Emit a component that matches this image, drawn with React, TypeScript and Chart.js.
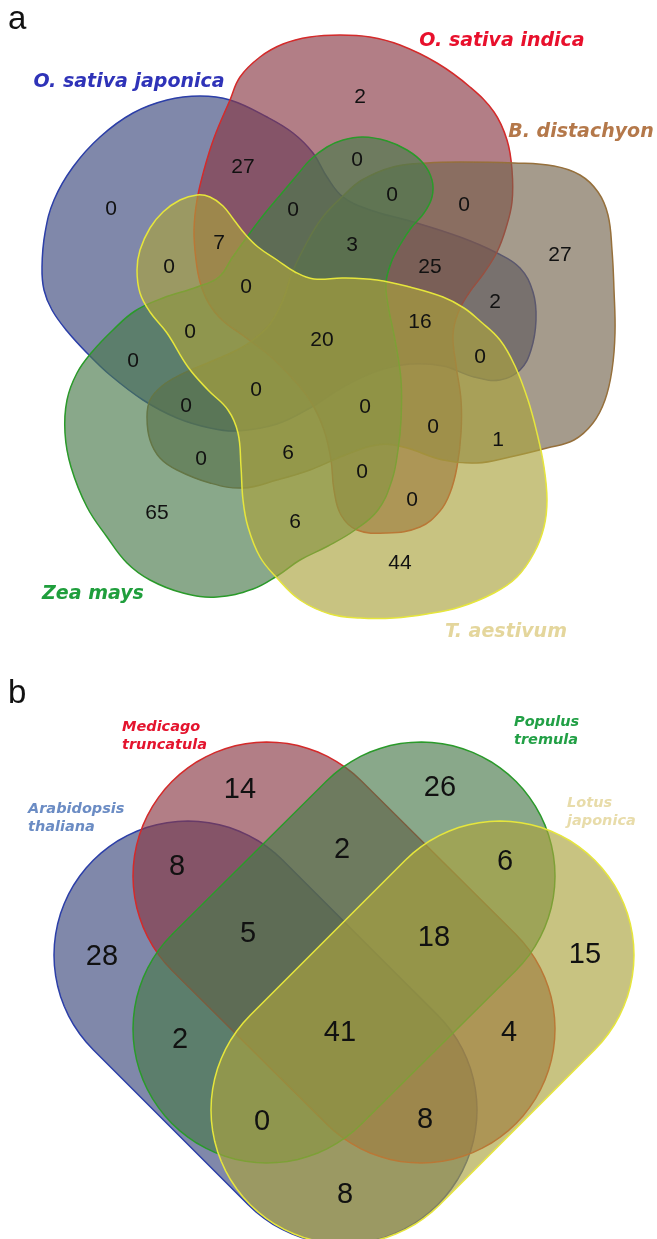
import React, { useEffect, useRef } from 'react';
import { Chart, registerables } from 'chart.js';

Chart.register(...registerables);

const W = 657;
const H = 1239;

// ---------------- panel a : five sets ----------------
const setNamesA = ['O. sativa japonica', 'O. sativa indica', 'B. distachyon', 'Zea mays', 'T. aestivum'];
const regionCountsA = [0, 27, 0, 7, 0, 0, 2, 0, 0, 0, 27, 3, 25, 2, 0, 0, 0, 0, 0, 6, 65, 6, 20, 16, 0, 0, 0, 1, 0, 0, 44];
const regionAnchorsA = [
  [111, 209], [243, 167], [293, 210], [219, 243], [169, 267], [246, 287], [360, 97], [357, 160],
  [392, 195], [464, 205], [560, 255], [352, 245], [430, 267], [495, 302], [190, 332], [133, 361],
  [186, 406], [256, 390], [201, 459], [288, 453], [157, 513], [295, 522], [322, 340], [420, 322],
  [480, 357], [365, 407], [433, 427], [498, 440], [362, 472], [412, 500], [400, 563],
];
const nameAnchorsA = [[129, 87], [502, 46], [581, 137], [93, 599], [506, 637]];

const outlineJaponica = [
  [230, 100], [267, 117], [293, 133], [313, 153], [327, 177], [343, 197], [370, 210], [410, 221],
  [460, 237], [497, 253], [520, 268], [533, 292], [536, 320], [531, 350], [520, 370], [500, 380],
  [474, 377], [443, 366], [410, 364], [377, 371], [343, 387], [310, 408], [277, 424], [237, 431],
  [210, 428], [177, 418], [143, 400], [110, 375], [87, 353], [67, 331], [52, 310], [44, 290],
  [42, 267], [45, 233], [54, 200], [73, 167], [100, 137], [133, 113], [167, 100], [200, 96],
];
const outlineIndica = [
  [230, 100], [240, 77], [260, 57], [283, 44], [310, 37], [340, 35], [370, 37], [400, 45],
  [437, 63], [470, 87], [494, 112], [507, 140], [512, 170], [512, 202], [506, 228], [497, 252],
  [484, 273], [469, 293], [458, 313], [453, 335], [456, 365], [461, 400], [461, 433], [457, 467],
  [450, 493], [440, 511], [420, 527], [387, 533], [357, 530], [341, 515], [334, 490], [331, 460],
  [324, 430], [311, 402], [292, 378], [270, 356], [245, 337], [222, 320], [208, 302], [200, 282],
  [196, 260], [194, 230], [197, 200], [204, 170], [214, 138],
];
const outlineDistachyon = [
  [344, 195], [362, 180], [393, 167], [427, 163], [460, 162], [514, 163], [554, 166], [580, 175],
  [598, 192], [608, 215], [612, 250], [614, 290], [615, 333], [612, 370], [605, 400], [593, 423],
  [574, 440], [547, 448], [510, 457], [477, 463], [443, 460], [403, 447], [377, 445], [343, 456],
  [310, 470], [277, 480], [243, 488], [210, 483], [177, 470], [160, 458], [150, 440], [147, 417],
  [150, 400], [162, 386], [180, 375], [210, 362], [235, 351], [253, 340], [270, 324], [283, 300],
  [292, 273], [305, 246], [322, 218],
];
const outlineZea = [
  [310, 160], [327, 147], [343, 140], [363, 137], [387, 141], [407, 150], [423, 163], [432, 180],
  [432, 197], [424, 213], [411, 228], [400, 245], [391, 263], [386, 283], [388, 305], [395, 340],
  [401, 380], [401, 420], [398, 450], [392, 480], [378, 510], [355, 530], [328, 546], [300, 560],
  [277, 576], [253, 589], [217, 597], [183, 593], [150, 580], [127, 563], [107, 537], [87, 507],
  [71, 467], [65, 433], [67, 400], [77, 373], [92, 352], [113, 330], [135, 311], [163, 298],
  [197, 287], [219, 277], [232, 258], [247, 237], [262, 217], [282, 193], [298, 174],
];
const outlineAestivum = [
  [197, 195], [210, 197], [223, 206], [234, 220], [245, 234], [258, 247], [277, 260], [295, 272],
  [314, 279], [343, 278], [377, 280], [410, 287], [443, 297], [464, 308], [480, 321], [500, 340],
  [515, 366], [528, 400], [537, 433], [544, 467], [547, 500], [544, 527], [534, 553], [517, 577],
  [494, 593], [460, 607], [427, 614], [394, 618], [360, 618], [330, 614], [300, 600], [277, 578],
  [260, 557], [248, 527], [243, 500], [241, 467], [238, 433], [228, 410], [208, 390], [188, 367],
  [167, 333], [150, 312], [140, 293], [137, 270], [140, 250], [150, 228], [163, 212], [180, 200],
];
const outlinesA = [outlineJaponica, outlineIndica, outlineDistachyon, outlineZea, outlineAestivum];

// ---------------- panel b : four sets ----------------
const setNamesB = [['Arabidopsis', 'thaliana'], ['Medicago', 'truncatula'], ['Populus', 'tremula'], ['Lotus', 'japonica']];
const regionCountsB = [28, 14, 26, 15, 8, 2, 6, 5, 18, 41, 2, 4, 0, 8, 8];
const regionAnchorsB = [
  [102, 957], [240, 790], [440, 788], [585, 955], [177, 867], [342, 850], [505, 862], [248, 934],
  [434, 938], [340, 1033], [180, 1040], [509, 1033], [262, 1122], [425, 1120], [345, 1195],
];
const nameAnchorsB = [[28, 813], [122, 731], [514, 726], [567, 807]];
const capCentresB = [
  [[188, 955], [343, 1110]],
  [[267, 876], [421, 1029]],
  [[421, 876], [267, 1029]],
  [[500, 955], [345, 1110]],
];
const capRadiiB = [134, 134, 134, 134];

const panelLetters = ['a', 'b'];
const panelLetterAnchors = [[8, 29], [8, 703]];

// ---------------- styles ----------------
const cBlue = 'rgba(60,72,124,0.65)';
const cRed = 'rgba(137,57,69,0.65)';
const cBrown = 'rgba(117,101,78,0.65)';
const cGreen = 'rgba(74,121,75,0.65)';
const cYellow = 'rgba(170,163,62,0.65)';
const fillsA = [cBlue, cRed, cBrown, cGreen, cYellow];
const strokesA = ['#2c3fa8', '#d42a2a', '#96703c', '#2a9a2a', '#e6e63c'];
const layerA = [4, 3, 2, 1, 0];
const nameColorsA = ['#2f33b8', '#e8102c', '#b4784a', '#1f9e3c', '#e4d69c'];

const fillsB = [cBlue, cRed, cGreen, cYellow];
const strokesB = ['#2c3fa8', '#d42a2a', '#2a9a2a', '#e6e63c'];
const layerB = [4, 3, 1, 0];
const nameColorsB = ['#6b8cc4', '#e4142e', '#22a046', '#e8dcaa'];

function stadium(c1: number[], c2: number[], r: number) {
  const dx = c2[0] - c1[0];
  const dy = c2[1] - c1[1];
  const len = Math.hypot(dx, dy);
  const ux = dx / len;
  const uy = dy / len;
  const a0 = Math.atan2(ux, -uy);
  const pts: { x: number; y: number }[] = [];
  const N = 40;
  for (let i = 0; i <= N; i++) {
    const t = a0 - (Math.PI * i) / N;
    pts.push({ x: c2[0] + r * Math.cos(t), y: c2[1] + r * Math.sin(t) });
  }
  for (let i = 0; i <= N; i++) {
    const t = a0 - Math.PI - (Math.PI * i) / N;
    pts.push({ x: c1[0] + r * Math.cos(t), y: c1[1] + r * Math.sin(t) });
  }
  return pts;
}

function shape(label: string, data: { x: number; y: number }[], fill: string, stroke: string, order: number, tension: number) {
  return {
    label,
    data,
    showLine: true,
    fill: 'shape',
    backgroundColor: fill,
    borderColor: stroke,
    borderWidth: 1.5,
    pointRadius: 0,
    pointHoverRadius: 0,
    tension,
    order,
    clip: false,
  };
}

const closeLoops = {
  id: 'closeLoops',
  afterDatasetsUpdate(chart: any) {
    chart.data.datasets.forEach((_: any, i: number) => {
      const line = chart.getDatasetMeta(i).dataset;
      if (line) {
        line._loop = true;
        line._fullLoop = true;
      }
    });
  },
};

const vennText = {
  id: 'vennText',
  afterDatasetsDraw(chart: any) {
    const { ctx } = chart;
    const xs = chart.scales.x;
    const ys = chart.scales.y;
    const px = (v: number) => xs.getPixelForValue(v);
    const py = (v: number) => ys.getPixelForValue(v);
    ctx.save();
    ctx.fillStyle = '#111';
    ctx.textAlign = 'center';
    ctx.textBaseline = 'middle';
    ctx.font = '21px "Liberation Sans", Arial, sans-serif';
    regionCountsA.forEach((v, i) => ctx.fillText(String(v), px(regionAnchorsA[i][0]), py(regionAnchorsA[i][1])));
    ctx.font = '29px "Liberation Sans", Arial, sans-serif';
    regionCountsB.forEach((v, i) => ctx.fillText(String(v), px(regionAnchorsB[i][0]), py(regionAnchorsB[i][1])));
    ctx.textBaseline = 'alphabetic';
    ctx.font = 'italic bold 19px "DejaVu Sans", Verdana, sans-serif';
    setNamesA.forEach((n, i) => {
      ctx.fillStyle = nameColorsA[i];
      ctx.fillText(n, px(nameAnchorsA[i][0]), py(nameAnchorsA[i][1]));
    });
    ctx.textAlign = 'left';
    ctx.font = 'italic bold 14.5px "DejaVu Sans", Verdana, sans-serif';
    setNamesB.forEach((lines, i) => {
      ctx.fillStyle = nameColorsB[i];
      lines.forEach((t, k) => ctx.fillText(t, px(nameAnchorsB[i][0]), py(nameAnchorsB[i][1] + k * 18)));
    });
    ctx.fillStyle = '#111';
    ctx.font = '33px "Liberation Sans", Arial, sans-serif';
    panelLetters.forEach((l, i) => ctx.fillText(l, px(panelLetterAnchors[i][0]), py(panelLetterAnchors[i][1])));
    ctx.restore();
  },
};

export default function App() {
  const ref = useRef<HTMLCanvasElement>(null);
  useEffect(() => {
    const canvas = ref.current;
    if (!canvas) return;
    const datasets: any[] = [];
    outlinesA.forEach((o, i) => {
      datasets.push(shape(setNamesA[i], o.map(([x, y]) => ({ x, y })), fillsA[i], strokesA[i], layerA[i], 0.4));
    });
    capCentresB.forEach((c, i) => {
      datasets.push(shape(setNamesB[i].join(' '), stadium(c[0], c[1], capRadiiB[i]), fillsB[i], strokesB[i], layerB[i], 0));
    });
    const chart = new Chart(canvas, {
      type: 'scatter',
      data: { datasets },
      options: {
        animation: false,
        responsive: false,
        devicePixelRatio: 1,
        events: [],
        layout: { padding: 0 },
        elements: { line: { capBezierPoints: false } },
        scales: {
          x: { type: 'linear', min: 0, max: W, display: false },
          y: { type: 'linear', min: 0, max: H, reverse: true, display: false },
        },
        plugins: { legend: { display: false }, tooltip: { enabled: false } },
      } as any,
      plugins: [closeLoops, vennText],
    } as any);
    return () => chart.destroy();
  }, []);
  return (
    <div style={{ position: 'absolute', left: 0, top: 0, width: W, height: H, background: '#ffffff' }}>
      <canvas ref={ref} width={W} height={H} style={{ display: 'block', width: W, height: H }} />
    </div>
  );
}
